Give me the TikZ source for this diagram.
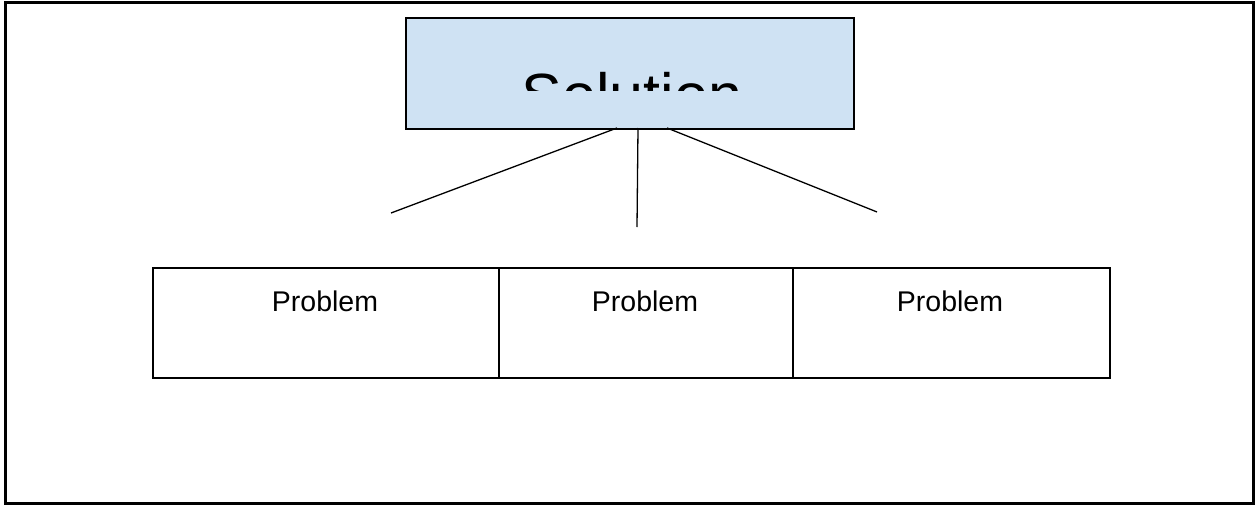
\documentclass[tikz,border=0pt]{standalone}
\usepackage{fontspec}
\setmainfont{Liberation Sans}
\begin{document}
\begin{tikzpicture}[x=1pt,y=-1pt,
  box/.style={draw=black,line width=2pt,rectangle,inner sep=0pt,anchor=north west},
  conn/.style={draw=black,line width=1.3pt},
  ptext/.style={font=\fontsize{28.5}{34}\selectfont,anchor=base}]
\useasboundingbox (0,0) rectangle (1255,506);
\fill[white] (0,0) rectangle (1255,506);
\draw[line width=3pt] (5.5,2) rectangle (1253,503);
% solution box
\node[box,fill={rgb,255:red,207;green,226;blue,243},minimum width=448pt,minimum height=111pt] (sol) at (405,17) {};
\begin{scope}
\clip (405,17) rectangle (853,90);
\node[font=\fontsize{61}{70}\selectfont,anchor=base] (soltext) at (632,116) {Solution};
\end{scope}
% problem boxes
\node[box,minimum width=346pt,minimum height=110pt] (p1) at (152,267) {};
\node[box,minimum width=294pt,minimum height=110pt] (p2) at (498,267) {};
\node[box,minimum width=317pt,minimum height=110pt] (p3) at (792,267) {};
\node[ptext] (t1) at (325,311) {Problem};
\node[ptext] (t2) at (645,311) {Problem};
\node[ptext] (t3) at (950,311) {Problem};
% connectors
\coordinate (s1) at (617,128);
\coordinate (s2) at (638,128);
\coordinate (s3) at (667,128);
\coordinate (e1) at (391,213);
\coordinate (e2) at (637,227);
\coordinate (e3) at (877,212);
\draw[conn] (s1) -- (e1);
\draw[conn] (s2) -- (e2);
\draw[conn] (s3) -- (e3);
\end{tikzpicture}
\end{document}
